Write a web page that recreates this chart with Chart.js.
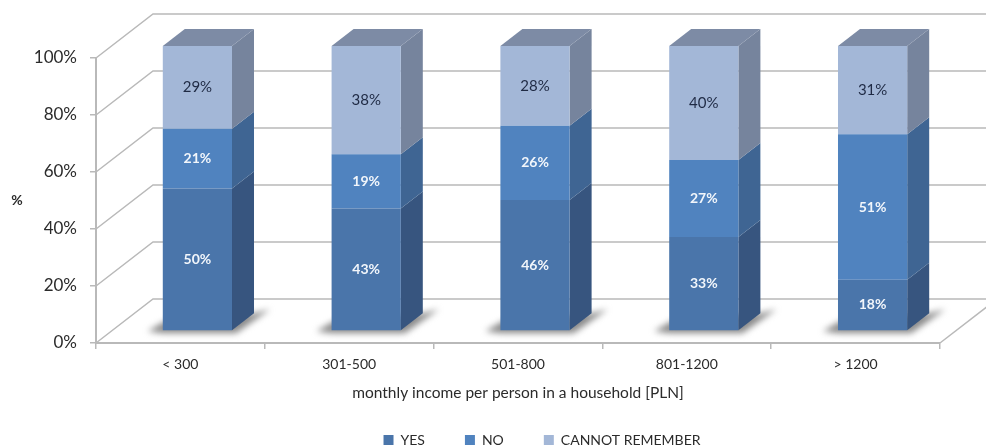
<!DOCTYPE html>
<html>
<head>
<meta charset="utf-8">
<style>
  html, body { margin: 0; padding: 0; background: #fff; }
  #wrap { width: 986px; height: 448px; }
</style>
<script src="https://cdn.jsdelivr.net/npm/chart.js@4/dist/chart.umd.min.js"></script>
</head>
<body>
<div id="wrap"><canvas id="chart"></canvas></div>
<script>
const categories = ["< 300", "301-500", "501-800", "801-1200", "> 1200"];
const yesValues = [50, 43, 46, 33, 18];
const noValues = [21, 19, 26, 27, 51];
const cannotValues = [29, 38, 28, 40, 31];
const seriesNames = ["YES", "NO", "CANNOT REMEMBER"];
const yTicks = [0, 20, 40, 60, 80, 100];

// depth of the fake 3D box: wall offset, bar offset, bar side
const WALL = { dx: 57, dy: -44 };
const BAR = { dx: 17, dy: -12 };
const SIDE = { dx: 22, dy: -17 };
const GRID_COLOR = "#b9b9b9";
const FRONT_COLORS = ["#4a75aa", "#5083bf", "#a3b7d7"];
const SIDE_COLORS = ["#37557f", "#3f6593", "#76849d"];
const TOP_COLOR = "#7d8ba5";
const LABEL_COLORS = ["#f2f6fb", "#f2f6fb", "#1f2a44"];

function fillPoly(ctx, pts, color) {
  ctx.fillStyle = color;
  ctx.beginPath();
  pts.forEach((p, i) => (i ? ctx.lineTo(p[0], p[1]) : ctx.moveTo(p[0], p[1])));
  ctx.closePath();
  ctx.fill();
}

// back wall, side wall and floor lines, taken from the real scales
const wallPlugin = {
  id: "wall",
  beforeDatasetsDraw(chart) {
    const { ctx, scales, chartArea } = chart;
    const y = scales.y;
    ctx.save();
    ctx.strokeStyle = GRID_COLOR;
    ctx.lineWidth = 1.5;
    yTicks.forEach(v => {
      const py = y.getPixelForValue(v);
      ctx.beginPath();
      ctx.moveTo(chartArea.left, py);
      ctx.lineTo(chartArea.left + WALL.dx, py + WALL.dy);
      ctx.lineTo(chart.width, py + WALL.dy);
      ctx.stroke();
    });
    ctx.beginPath();
    ctx.moveTo(chartArea.right, chartArea.bottom);
    ctx.lineTo(chartArea.right + WALL.dx, chartArea.bottom + WALL.dy);
    ctx.stroke();
    ctx.restore();
  }
};

// sides, tops and floor shadows of the bars; bars sit a bit inside the box
const boxPlugin = {
  id: "box",
  beforeDatasetsDraw(chart) {
    const { ctx } = chart;
    ctx.save();
    ctx.translate(BAR.dx, BAR.dy);

    const first = chart.getDatasetMeta(0).data;
    first.forEach(bar => {
      const l = bar.x - bar.width / 2;
      const r = bar.x + bar.width / 2;
      const b = bar.base;
      ctx.save();
      ctx.filter = "blur(3px)";
      fillPoly(ctx, [
        [l - 15, b + 1], [l + 2, b - 9], [r + SIDE.dx, b + SIDE.dy],
        [r + SIDE.dx + 16, b + SIDE.dy - 4], [r + 4, b + 3], [l, b + 3]
      ], "#8b8b8b");
      ctx.restore();
    });

    chart.data.datasets.forEach((ds, di) => {
      chart.getDatasetMeta(di).data.forEach(bar => {
        const r = bar.x + bar.width / 2;
        fillPoly(ctx, [
          [r, bar.y], [r + SIDE.dx, bar.y + SIDE.dy],
          [r + SIDE.dx, bar.base + SIDE.dy], [r, bar.base]
        ], SIDE_COLORS[di]);
      });
    });

    const last = chart.data.datasets.length - 1;
    chart.getDatasetMeta(last).data.forEach(bar => {
      const l = bar.x - bar.width / 2;
      const r = bar.x + bar.width / 2;
      fillPoly(ctx, [
        [l, bar.y], [l + SIDE.dx, bar.y + SIDE.dy],
        [r + SIDE.dx, bar.y + SIDE.dy], [r, bar.y]
      ], TOP_COLOR);
    });
  },
  afterDatasetsDraw(chart) {
    const { ctx } = chart;
    ctx.textAlign = "center";
    ctx.textBaseline = "middle";
    chart.data.datasets.forEach((ds, di) => {
      ctx.fillStyle = LABEL_COLORS[di];
      ctx.font = di === 2 ? "15px Lato" : "bold 14px Lato";
      chart.getDatasetMeta(di).data.forEach((bar, i) => {
        ctx.fillText(ds.data[i] + "%", bar.x, (bar.y + bar.base) / 2);
      });
    });
    ctx.restore();
  }
};

// the legend sits right of centre and needs wide gaps, the upright % is not a rotated axis title
const placementPlugin = {
  id: "placement",
  afterLayout(chart) {
    const legend = chart.legend;
    legend.left += 72;
    legend.right += 72;
    legend.top -= 9;
  },
  afterDraw(chart) {
    const { ctx, scales } = chart;
    ctx.save();
    ctx.font = "bold 14px Lato";
    ctx.fillStyle = "#2b2b2b";
    ctx.textAlign = "center";
    ctx.textBaseline = "middle";
    ctx.fillText("%", 17, scales.y.getPixelForValue(50));
    ctx.restore();
  }
};

Chart.defaults.font.family = "Lato, 'Open Sans', sans-serif";
Chart.defaults.color = "#2b2b2b";

new Chart(document.getElementById("chart"), {
  type: "bar",
  data: {
    labels: categories,
    datasets: [yesValues, noValues, cannotValues].map((values, i) => ({
      label: seriesNames[i],
      data: values,
      backgroundColor: FRONT_COLORS[i],
      borderWidth: 0,
      clip: false,
      categoryPercentage: 1,
      barPercentage: 0.41
    }))
  },
  options: {
    responsive: true,
    maintainAspectRatio: false,
    animation: false,
    layout: { padding: { top: 58, right: 46, bottom: -18, left: 0 } },
    plugins: {
      tooltip: { enabled: false },
      legend: {
        position: "bottom",
        labels: { boxWidth: 10, boxHeight: 10, padding: 40, font: { size: 14 }, color: "#2b2b2b" }
      }
    },
    scales: {
      x: {
        stacked: true,
        offset: true,
        afterFit(scale) { scale.height = 59; },
        grid: { drawOnChartArea: false, offset: true, color: GRID_COLOR, tickLength: 6, lineWidth: 1.5 },
        border: { color: GRID_COLOR, width: 2 },
        ticks: { font: { size: 14 }, padding: 7, maxRotation: 0 },
        title: {
          display: true,
          text: "monthly income per person in a household [PLN]",
          font: { size: 15.5 },
          padding: { top: 12, bottom: 0 }
        }
      },
      y: {
        stacked: true,
        min: 0,
        max: 100,
        afterFit(scale) { scale.width = 96; },
        afterBuildTicks(scale) { scale.ticks = yTicks.map(value => ({ value })); },
        grid: { drawOnChartArea: false, color: GRID_COLOR, tickLength: 6, lineWidth: 1.5 },
        border: { color: GRID_COLOR, width: 2 },
        ticks: { font: { size: 17 }, padding: 13, callback: v => v + "%" }
      }
    }
  },
  plugins: [wallPlugin, boxPlugin, placementPlugin]
});
</script>
</body>
</html>
